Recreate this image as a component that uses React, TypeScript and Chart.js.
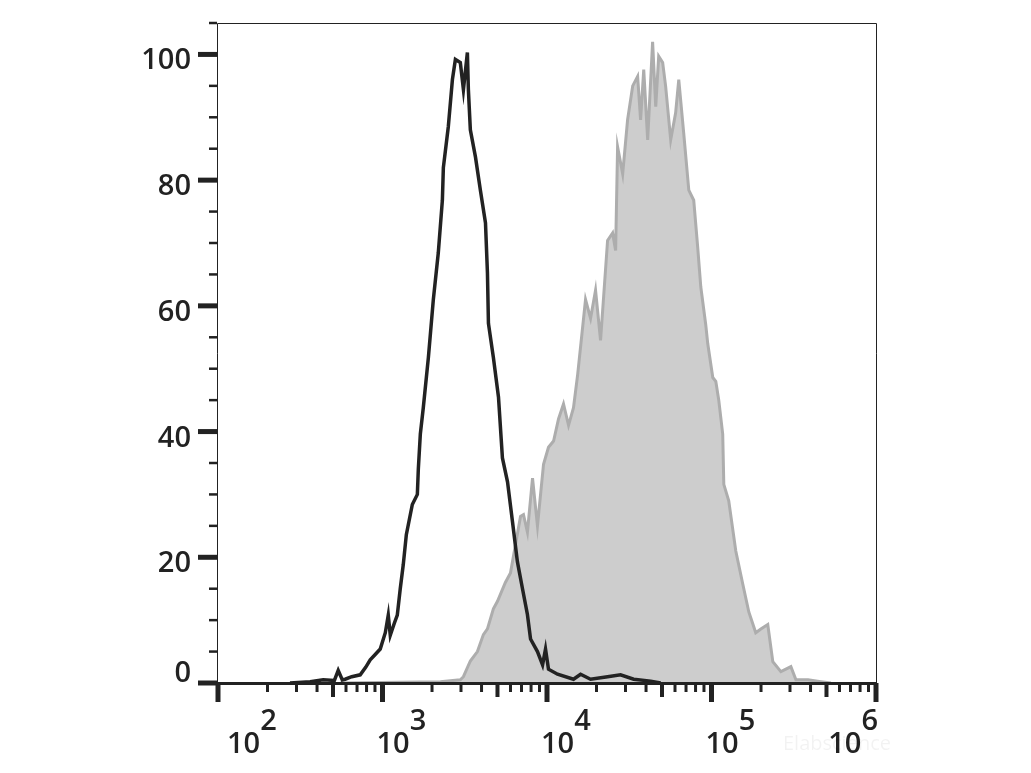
import React, { useEffect, useRef } from "react";
import { Chart, registerables } from "chart.js";

Chart.register(...registerables);

// Black (unfilled) histogram: fluorescence channel values and % of max
const blackX = [274, 363, 436, 510, 538, 570, 593, 650, 732, 790, 842, 900, 969, 1040, 1084, 1115, 1180, 1230, 1282, 1337, 1396, 1518, 1629, 1651, 1698, 1770, 1901, 2037, 2183, 2312, 2344, 2512, 2661, 2774, 2972, 3104, 3281, 3327, 3420, 3673, 3936, 4227, 4345, 4406, 4721, 5070, 5358, 5754, 6166, 6607, 7096, 7603, 7943, 8750, 9397, 9795, 10210, 11590, 14490, 16000, 18400, 23350, 28000, 33650, 42660, 49090];
const blackY = [0, 0.2, 0.5, 0.4, 2, 0.5, 0.6, 1.0, 1.3, 2.5, 3.7, 4.5, 5.4, 8, 10.8, 7.6, 9.5, 10.8, 15, 18.8, 23.6, 28.4, 30, 34, 39.6, 43.8, 51.8, 61, 68.4, 76.8, 82, 88.5, 96, 99.2, 98.7, 94.4, 100.3, 94.4, 88, 83.7, 78.4, 73.2, 65.2, 57.2, 51.8, 45.5, 35.8, 32, 25.7, 19.3, 15, 10.9, 7, 5, 2.9, 5.4, 2.2, 1.4, 0.6, 1.4, 0.6, 1, 1.3, 0.6, 0.3, 0];

// Grey (filled) histogram
const grayX = [553, 2249, 2972, 3104, 3420, 3776, 4105, 4345, 4721, 5000, 5585, 5998, 6166, 6902, 7194, 7603, 8166, 8750, 9526, 10210, 10965, 11750, 12600, 13520, 14490, 15350, 17150, 18400, 19730, 21160, 23350, 25060, 26130, 26860, 28840, 30900, 33190, 35560, 37070, 38730, 40930, 43850, 45810, 47750, 50470, 52600, 56490, 60530, 63240, 67760, 72780, 77980, 82440, 86100, 92260, 94860, 101800, 106200, 110700, 117000, 118800, 127300, 140500, 155000, 168600, 185800, 199500, 219800, 235900, 264100, 303800, 326000, 385700, 462600, 532100];
const grayY = [0, 0.2, 0.5, 1, 3.5, 5, 7.7, 8.6, 11.8, 13, 16, 17.5, 19.3, 26.5, 26.8, 24, 32.6, 25, 34.8, 37.5, 38.5, 42, 44.4, 41, 43.8, 49, 61, 58, 62.5, 54.5, 70.4, 71.6, 68.8, 85.3, 81, 89.6, 95, 96.5, 89.6, 97.6, 86.4, 102, 91.7, 99.7, 98.7, 95, 86.4, 90.7, 96, 87.5, 78.4, 76.8, 69.3, 63, 57, 54, 48.6, 48, 45, 39.6, 31.6, 29, 21, 15.7, 11.3, 8, 8.6, 9.3, 3.4, 1.8, 2.6, 0.5, 0.5, 0.2, 0];

// Axis ticks
const yMajorTicks = [0, 20, 40, 60, 80, 100];
const yMinorTicks = [5, 10, 15, 25, 30, 35, 45, 50, 55, 65, 70, 75, 85, 90, 95, 105];
const xDecadeExponents = [2, 3, 4, 5, 6];
const xMinorMultipliers = [2, 3, 4, 5, 6, 7, 8, 9];

const FONT = '600 29px "Open Sans", "Noto Sans", sans-serif';
const INK = "#222222";

const axesPlugin = {
  id: "flowAxes",
  afterDatasetsDraw(chart: any) {
    const { ctx, chartArea, scales } = chart;
    const { left, right, top, bottom } = chartArea;
    const xs = scales.x;
    const ys = scales.y;
    ctx.save();
    ctx.strokeStyle = INK;
    ctx.fillStyle = INK;

    // frame (thin)
    ctx.lineWidth = 1;
    ctx.beginPath();
    ctx.moveTo(left - 0.5, bottom);
    ctx.lineTo(left - 0.5, top + 0.5);
    ctx.lineTo(right + 0.5, top + 0.5);
    ctx.lineTo(right + 0.5, bottom);
    ctx.stroke();

    // thick bottom axis
    ctx.lineWidth = 3;
    ctx.beginPath();
    ctx.moveTo(left - 1, bottom + 0.5);
    ctx.lineTo(right + 1, bottom + 0.5);
    ctx.stroke();

    // y ticks
    ctx.lineCap = "butt";
    yMajorTicks.forEach((v) => {
      const py = ys.getPixelForValue(v);
      ctx.lineWidth = 5;
      ctx.beginPath();
      ctx.moveTo(left - 20, py);
      ctx.lineTo(left - 1, py);
      ctx.stroke();
    });
    yMinorTicks.forEach((v) => {
      const py = ys.getPixelForValue(v);
      ctx.lineWidth = 2.5;
      ctx.beginPath();
      ctx.moveTo(left - 9, py);
      ctx.lineTo(left - 1, py);
      ctx.stroke();
    });

    // y labels
    ctx.font = FONT;
    ctx.textAlign = "right";
    ctx.textBaseline = "alphabetic";
    yMajorTicks.forEach((v) => {
      const py = ys.getPixelForValue(v);
      const base = Math.min(py + 15, bottom - 1);
      ctx.fillText(String(v), left - 27, base);
    });

    // x ticks
    xDecadeExponents.forEach((e) => {
      const major = Math.pow(10, e);
      const px = xs.getPixelForValue(major);
      ctx.lineWidth = 5;
      ctx.beginPath();
      ctx.moveTo(px, bottom);
      ctx.lineTo(px, bottom + 19);
      ctx.stroke();
      if (e < 6) {
        xMinorMultipliers.forEach((m) => {
          const mpx = xs.getPixelForValue(m * major);
          const len = m === 5 ? 14 : 9;
          ctx.lineWidth = m === 5 ? 4 : 3;
          ctx.beginPath();
          ctx.moveTo(mpx, bottom);
          ctx.lineTo(mpx, bottom + len);
          ctx.stroke();
        });
      }
    });

    // x labels: 10^n
    ctx.textAlign = "left";
    xDecadeExponents.forEach((e) => {
      const px = xs.getPixelForValue(Math.pow(10, e));
      const base = "10";
      const sup = String(e);
      const w1 = ctx.measureText(base).width;
      const w2 = ctx.measureText(sup).width;
      let lx = px - 6;
      lx = Math.max(lx, left + 9);
      lx = Math.min(lx, right + 2 - (w1 + w2));
      ctx.fillText(base, lx, 753);
      ctx.fillText(sup, lx + w1, 730);
    });

    // faint watermark
    ctx.fillStyle = "rgba(0,0,0,0.05)";
    ctx.font = '20px "Open Sans", sans-serif';
    ctx.fillText("Elabscience", 783, 750);

    ctx.restore();
  },
};

export default function App() {
  const canvasRef = useRef<HTMLCanvasElement | null>(null);

  useEffect(() => {
    if (!canvasRef.current) return;
    const blackData = blackX.map((x, i) => ({ x, y: blackY[i] }));
    const grayData = grayX.map((x, i) => ({ x, y: grayY[i] }));
    const chart = new Chart(canvasRef.current, {
      type: "line",
      data: {
        datasets: [
          {
            label: "Control",
            data: blackData,
            borderColor: INK,
            borderWidth: 3.5,
            pointRadius: 0,
            fill: false,
            tension: 0,
            order: 0,
          },
          {
            label: "Stained",
            data: grayData,
            borderColor: "#adadad",
            backgroundColor: "#cdcdcd",
            borderWidth: 3,
            pointRadius: 0,
            fill: "origin",
            tension: 0,
            order: 1,
          },
        ],
      },
      options: {
        animation: false,
        responsive: false,
        devicePixelRatio: 1,
        layout: { padding: { left: 218, right: 155, top: 23, bottom: 90 } },
        plugins: { legend: { display: false }, tooltip: { enabled: false } },
        scales: {
          x: { type: "logarithmic", min: 100, max: 1000000, display: false },
          y: { type: "linear", min: 0, max: 105, display: false },
        },
      },
      plugins: [axesPlugin],
    });
    return () => chart.destroy();
  }, []);

  return (
    <div style={{ position: "absolute", left: 0, top: 0, width: 1031, height: 773, background: "#fff" }}>
      <canvas ref={canvasRef} width={1031} height={773} />
    </div>
  );
}
